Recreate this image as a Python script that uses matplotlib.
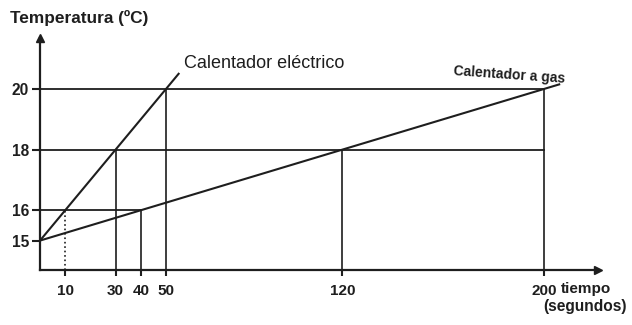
import matplotlib
matplotlib.use('Agg')
import matplotlib.pyplot as plt

plt.rcParams['font.family'] = ['Liberation Sans', 'DejaVu Sans']

# heating curves (time in s, temperature in ºC)
elec_t = [0, 10, 30, 50, 55]
elec_T = [15, 16, 18, 20, 20.5]
gas_t = [0, 40, 120, 200, 206]
gas_T = [15, 16, 18, 20, 20.15]

# reference guides
h_levels = [16, 18, 20]
h_ends = [40, 200, 200]
v_times = [10, 30, 40, 50, 120, 200]
v_tops = [16, 18, 16, 20, 18, 20]

y_ticks = [15, 16, 18, 20]
x_ticks = [10, 30, 40, 50, 120, 200]

ink = '#1e1e1e'
fig = plt.figure(figsize=(6.32, 3.25), dpi=100)
ax = fig.add_axes([40/632, 55/325, 558/632, 232/325])
ax.set_xlim(0, 221.4)
ax.set_ylim(14.03, 21.68)

for s in ['top', 'right']:
    ax.spines[s].set_visible(False)
for s in ['left', 'bottom']:
    ax.spines[s].set_color(ink)
    ax.spines[s].set_linewidth(1.6)

# arrow heads
ax.plot(1, 0, '>', color=ink, ms=6, transform=ax.transAxes, clip_on=False)
ax.plot(0, 1, '^', color=ink, ms=6, transform=ax.transAxes, clip_on=False)

for lv, e in zip(h_levels, h_ends):
    ax.plot([0, e], [lv, lv], color=ink, lw=1.3)
for t, top in zip(v_times, v_tops):
    ls = ':' if t == 10 else '-'
    ax.plot([t, t], [14.03, top], color=ink, lw=1.2, ls=ls)

ax.plot(elec_t, elec_T, color=ink, lw=1.5)
ax.plot(gas_t, gas_T, color=ink, lw=1.5)

ax.set_yticks(y_ticks)
ax.set_yticklabels([str(v) for v in y_ticks])
ax.set_xticks(x_ticks)
ax.set_xticklabels([str(v) for v in x_ticks])
ax.tick_params(axis='y', direction='out', length=6, width=1.5, color=ink, pad=2,
               labelsize=11.2, labelcolor=ink)
ax.tick_params(axis='x', direction='out', length=4, width=1.5, color=ink, pad=6,
               labelsize=11, labelcolor=ink)
for lab in ax.get_xticklabels() + ax.get_yticklabels():
    lab.set_fontweight('bold')

ax.text(57, 20.55, 'Calentador eléctrico', fontsize=13, color=ink, va='bottom')
ax.text(164, 20.1, 'Calentador a gas', fontsize=10, color=ink, fontweight='bold',
        va='bottom', rotation=-4)

fig.text(10/632, 1 - 18/325, 'Temperatura (ºC)', fontsize=12.4, fontweight='bold',
         color=ink, va='center')
fig.text(561/632, 1 - 289/325, 'tiempo', fontsize=11, fontweight='bold',
         color=ink, va='center')
fig.text(543/632, 1 - 307/325, '(segundos)', fontsize=11.2, fontweight='bold',
         color=ink, va='center')

fig.savefig('out.png', dpi=100, facecolor='white')
